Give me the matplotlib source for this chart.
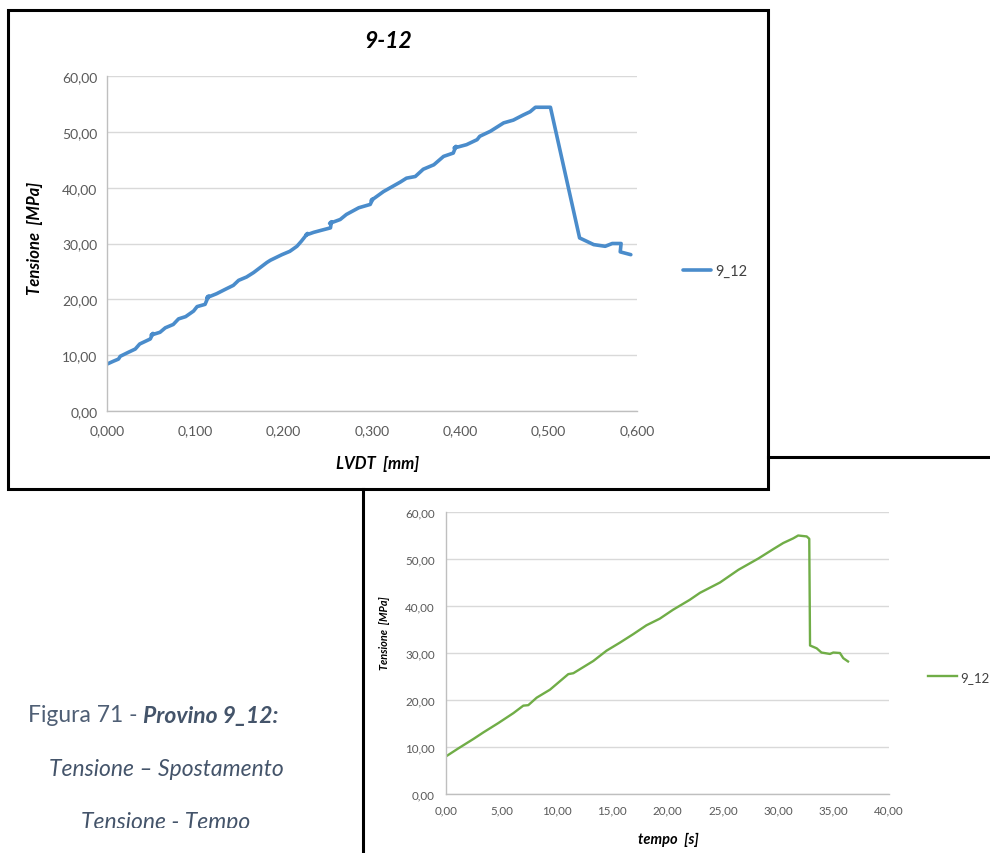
import matplotlib
matplotlib.use("Agg")
import matplotlib.pyplot as plt
from matplotlib.patches import Rectangle
from matplotlib.lines import Line2D
from matplotlib.ticker import FuncFormatter, MultipleLocator

# ---- data: specimen 9_12 -------------------------------------------------
lvdt_mm = [0.000, 0.007, 0.013, 0.015, 0.024, 0.032, 0.037, 0.049, 0.052, 0.050,
           0.060, 0.066, 0.075, 0.081, 0.089, 0.098, 0.102, 0.111, 0.115, 0.113,
           0.124, 0.134, 0.143, 0.149, 0.158, 0.166, 0.181, 0.185, 0.198, 0.207,
           0.215, 0.220, 0.227, 0.225, 0.234, 0.241, 0.253, 0.254, 0.252, 0.264,
           0.271, 0.285, 0.298, 0.301, 0.299, 0.313, 0.332, 0.339, 0.349, 0.358,
           0.370, 0.381, 0.392, 0.395, 0.393, 0.407, 0.419, 0.422, 0.434, 0.449,
           0.460, 0.471, 0.479, 0.485, 0.502, 0.535, 0.551, 0.564, 0.572, 0.582,
           0.581, 0.593]
tension_lvdt = [8.4, 8.9, 9.3, 9.8, 10.5, 11.1, 12.0, 12.9, 13.9, 13.6,
                14.1, 14.9, 15.5, 16.5, 16.9, 17.9, 18.7, 19.1, 20.6, 20.3,
                21.0, 21.8, 22.5, 23.4, 24.0, 24.8, 26.6, 27.0, 28.0, 28.6,
                29.5, 30.4, 31.8, 31.5, 32.0, 32.3, 32.8, 33.9, 33.6, 34.3,
                35.2, 36.4, 37.0, 38.0, 37.7, 39.3, 41.0, 41.7, 42.0, 43.3,
                44.1, 45.6, 46.2, 47.4, 47.1, 47.7, 48.6, 49.2, 50.1, 51.6,
                52.1, 53.0, 53.6, 54.4, 54.4, 31.0, 29.8, 29.5, 30.0, 30.0,
                28.5, 28.0]

tempo_s = [0.00, 1.11, 2.47, 3.37, 4.73, 6.08, 6.98, 7.43, 8.19, 9.39,
           11.04, 11.50, 13.30, 14.50, 15.70, 16.90, 18.10, 19.30, 20.50, 22.00,
           22.93, 24.74, 26.40, 28.20, 29.55, 30.45, 31.36, 31.80, 32.57, 32.80,
           32.87, 33.47, 33.90, 34.67, 34.97, 35.57, 35.87, 36.30]
tension_tempo = [8.0, 9.7, 11.7, 13.1, 15.1, 17.2, 18.8, 18.9, 20.5, 22.2,
                 25.5, 25.7, 28.3, 30.5, 32.2, 34.0, 35.9, 37.3, 39.2, 41.3,
                 42.8, 45.0, 47.7, 50.1, 52.1, 53.4, 54.4, 55.0, 54.8, 54.3,
                 31.6, 31.0, 30.1, 29.8, 30.1, 30.0, 28.9, 28.2]

series_name = "9_12"
title_top = "9-12"
xlabel_top = "LVDT  [mm]"
xlabel_bottom = "tempo  [s]"
ylabel = "Tensione  [MPa]"

W, H = 990, 854
FONT = ["Lato", "DejaVu Sans"]
plt.rcParams["font.family"] = FONT

fig = plt.figure(figsize=(W / 100, H / 100), dpi=100)
fig.patch.set_facecolor("white")


def fx(x):
    return x / W


def fy(y):
    return 1 - y / H


def axes_px(left, top, right, bottom):
    return fig.add_axes([fx(left), fy(bottom), fx(right) - fx(left), fy(top) - fy(bottom)])


def comma_fmt(decimals):
    return FuncFormatter(lambda v, _: f"{v:.{decimals}f}".replace(".", ","))


def style_axes(ax, tick_size, xpad, ypad):
    for side in ("top", "right"):
        ax.spines[side].set_visible(False)
    for side in ("left", "bottom"):
        ax.spines[side].set_color("#BFBFBF")
        ax.spines[side].set_linewidth(1.0)
    ax.grid(axis="y", color="#D9D9D9", linewidth=1.0)
    ax.set_axisbelow(True)
    ax.tick_params(length=0, labelsize=tick_size, labelcolor="#595959")
    ax.tick_params(axis="x", pad=xpad)
    ax.tick_params(axis="y", pad=ypad)
    ax.set_ylim(0, 60)
    ax.yaxis.set_major_locator(MultipleLocator(10))
    ax.yaxis.set_major_formatter(comma_fmt(2))


# ---- top chart: stress vs displacement ------------------------------------
ax1 = axes_px(107, 77, 637, 412)
ax1.plot(lvdt_mm, tension_lvdt, color="#4A8CCB", linewidth=2.6,
         solid_joinstyle="round", solid_capstyle="round", label=series_name)
ax1.set_xlim(0, 0.6)
ax1.xaxis.set_major_locator(MultipleLocator(0.1))
ax1.xaxis.set_major_formatter(comma_fmt(3))
style_axes(ax1, 10, 9.5, 7)
ax1.legend(loc="center left", bbox_to_anchor=(fx(683), fy(272)),
           bbox_transform=fig.transFigure, frameon=False, fontsize=10.5,
           handlelength=1.9, handletextpad=0.3, borderpad=0, borderaxespad=0,
           labelcolor="#404040")

fig.text(fx(388), fy(42), title_top, ha="center", va="center",
         fontsize=16.5, fontweight="bold", fontstyle="italic", color="black")
fig.text(fx(378), fy(464), xlabel_top, ha="center", va="center",
         fontsize=12, fontweight="bold", fontstyle="italic", color="black")
fig.text(fx(35), fy(238), ylabel, ha="center", va="center", rotation=90,
         fontsize=12, fontweight="bold", fontstyle="italic", color="black")

# ---- bottom chart: stress vs time -----------------------------------------
ax2 = axes_px(446, 513, 889, 795)
ax2.plot(tempo_s, tension_tempo, color="#70AD47", linewidth=1.7,
         solid_joinstyle="round", label=series_name)
ax2.set_xlim(0, 40)
ax2.xaxis.set_major_locator(MultipleLocator(5))
ax2.xaxis.set_major_formatter(comma_fmt(2))
style_axes(ax2, 8.4, 7.5, 8)
ax2.legend(loc="center left", bbox_to_anchor=(fx(928), fy(678)),
           bbox_transform=fig.transFigure, frameon=False, fontsize=9.5,
           handlelength=2.2, handletextpad=0.25, borderpad=0, borderaxespad=0,
           labelcolor="#404040")

fig.text(fx(668), fy(840), xlabel_bottom, ha="center", va="center",
         fontsize=10.5, fontweight="bold", fontstyle="italic", color="black")
fig.text(fx(385), fy(633), ylabel, ha="center", va="center", rotation=90,
         fontsize=7.8, fontweight="bold", fontstyle="italic", color="black")

# ---- frames --------------------------------------------------------------
frame_lw = 2.2
fig.add_artist(Rectangle((fx(8), fy(490)), fx(768) - fx(8), fy(11) - fy(490),
                         transform=fig.transFigure, fill=False,
                         edgecolor="black", linewidth=frame_lw))
fig.add_artist(Line2D([fx(363), fx(363)], [fy(490), fy(860)],
                      transform=fig.transFigure, color="black", linewidth=frame_lw))
fig.add_artist(Line2D([fx(768), fx(995)], [fy(458), fy(458)],
                      transform=fig.transFigure, color="black", linewidth=frame_lw))

# ---- caption -------------------------------------------------------------
cap_color = "#44546A"
cap_size = 16.5
t1 = fig.text(fx(28), fy(716), "Figura 71 - ", ha="left", va="center",
              fontsize=cap_size, color="#4F5F75")
fig.canvas.draw()
bb = t1.get_window_extent(renderer=fig.canvas.get_renderer())
fig.text(bb.x1 / W, fy(716), "Provino 9_12:", ha="left", va="center",
         fontsize=cap_size, fontweight="bold", fontstyle="italic", color=cap_color)
fig.text(fx(166), fy(770), "Tensione \u2013 Spostamento", ha="center", va="center",
         fontsize=cap_size, fontstyle="italic", color=cap_color)
t3 = fig.text(fx(166), fy(823), "Tensione - Tempo", ha="center", va="center",
              fontsize=cap_size, fontstyle="italic", color=cap_color)
clip = Rectangle((0, fy(829)), fx(362), fy(800) - fy(829), transform=fig.transFigure)
t3.set_clip_path(clip)

fig.savefig("out.png", dpi=100, facecolor="white")
